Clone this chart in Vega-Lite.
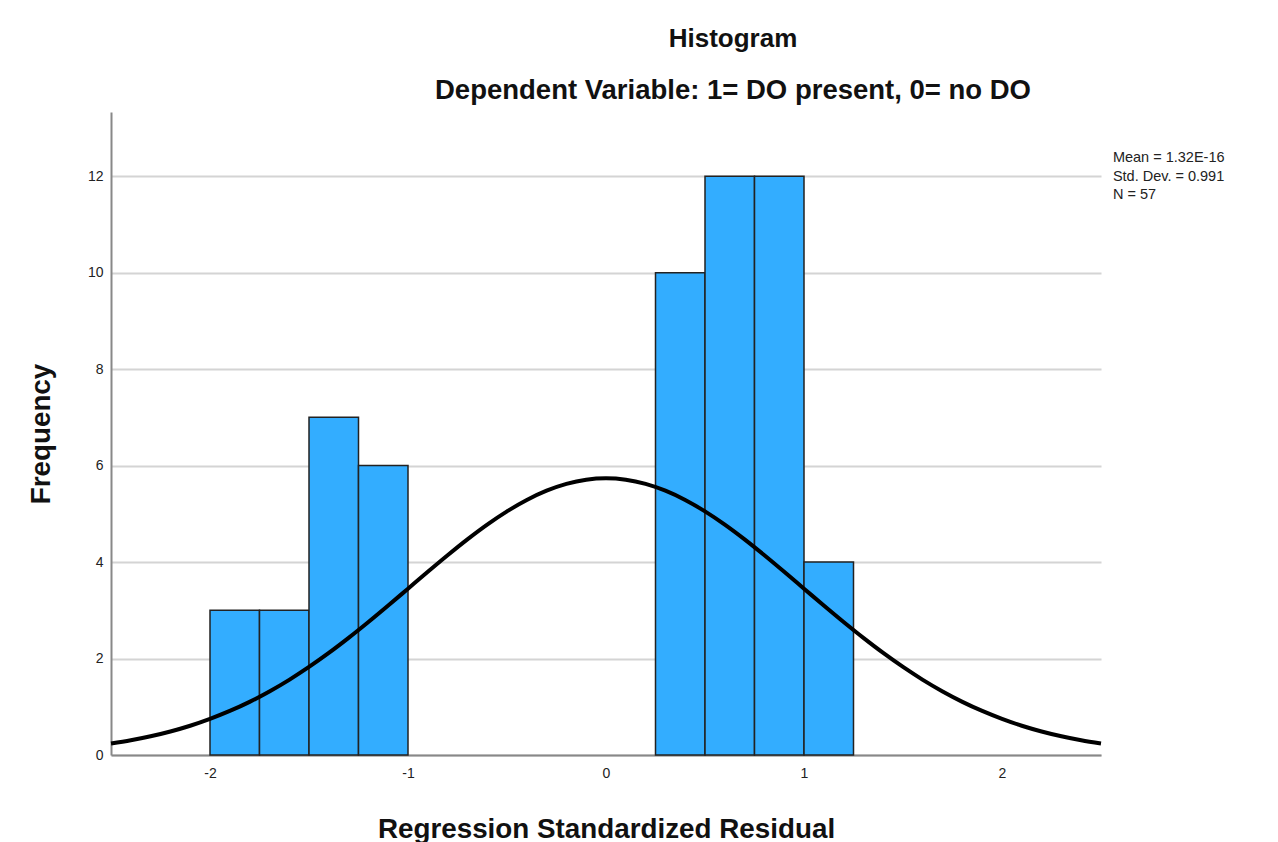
{
  "$schema": "https://vega.github.io/schema/vega-lite/v6.json",
  "width": 990,
  "height": 643,
  "autosize": "none",
  "padding": {"left": 111, "top": 112, "right": 177, "bottom": 87},
  "background": "white",
  "config": {
    "view": {"stroke": null},
    "font": "Liberation Sans"
  },
  "title": {
    "text": "Histogram",
    "subtitle": "Dependent Variable: 1= DO present, 0= no DO",
    "anchor": "middle",
    "frame": "group",
    "dx": 127,
    "fontSize": 26,
    "fontWeight": "bold",
    "color": "#111111",
    "subtitleFontSize": 27.5,
    "subtitleFontWeight": "bold",
    "subtitleColor": "#111111",
    "subtitlePadding": 25,
    "offset": 8
  },
  "datasets": {
    "bars": [
      {"bin_start": -2.0, "bin_end": -1.75, "count": 3},
      {"bin_start": -1.75, "bin_end": -1.5, "count": 3},
      {"bin_start": -1.5, "bin_end": -1.25, "count": 7},
      {"bin_start": -1.25, "bin_end": -1.0, "count": 6},
      {"bin_start": 0.25, "bin_end": 0.5, "count": 10},
      {"bin_start": 0.5, "bin_end": 0.75, "count": 12},
      {"bin_start": 0.75, "bin_end": 1.0, "count": 12},
      {"bin_start": 1.0, "bin_end": 1.25, "count": 4}
    ],
    "curve": [
      {"x": -2.5, "density": 0.238},
      {"x": -2.4, "density": 0.305},
      {"x": -2.3, "density": 0.388},
      {"x": -2.2, "density": 0.488},
      {"x": -2.1, "density": 0.607},
      {"x": -2.0, "density": 0.749},
      {"x": -1.9, "density": 0.913},
      {"x": -1.8, "density": 1.102},
      {"x": -1.7, "density": 1.317},
      {"x": -1.6, "density": 1.558},
      {"x": -1.5, "density": 1.825},
      {"x": -1.4, "density": 2.115},
      {"x": -1.3, "density": 2.427},
      {"x": -1.2, "density": 2.756},
      {"x": -1.1, "density": 3.098},
      {"x": -1.0, "density": 3.448},
      {"x": -0.9, "density": 3.798},
      {"x": -0.8, "density": 4.141},
      {"x": -0.7, "density": 4.470},
      {"x": -0.6, "density": 4.776},
      {"x": -0.5, "density": 5.051},
      {"x": -0.4, "density": 5.288},
      {"x": -0.3, "density": 5.480},
      {"x": -0.2, "density": 5.621},
      {"x": -0.1, "density": 5.708},
      {"x": 0.0, "density": 5.737},
      {"x": 0.1, "density": 5.708},
      {"x": 0.2, "density": 5.621},
      {"x": 0.3, "density": 5.480},
      {"x": 0.4, "density": 5.288},
      {"x": 0.5, "density": 5.051},
      {"x": 0.6, "density": 4.776},
      {"x": 0.7, "density": 4.470},
      {"x": 0.8, "density": 4.141},
      {"x": 0.9, "density": 3.798},
      {"x": 1.0, "density": 3.448},
      {"x": 1.1, "density": 3.098},
      {"x": 1.2, "density": 2.756},
      {"x": 1.3, "density": 2.427},
      {"x": 1.4, "density": 2.115},
      {"x": 1.5, "density": 1.825},
      {"x": 1.6, "density": 1.558},
      {"x": 1.7, "density": 1.317},
      {"x": 1.8, "density": 1.102},
      {"x": 1.9, "density": 0.913},
      {"x": 2.0, "density": 0.749},
      {"x": 2.1, "density": 0.607},
      {"x": 2.2, "density": 0.488},
      {"x": 2.3, "density": 0.388},
      {"x": 2.4, "density": 0.305},
      {"x": 2.5, "density": 0.238}
    ],
    "stats": [
      {"label": "Mean = 1.32E-16\nStd. Dev. = 0.991\nN = 57"}
    ]
  },
  "layer": [
    {
      "data": {"name": "bars"},
      "mark": {"type": "bar", "orient": "vertical", "fill": "#33adff", "stroke": "#222222", "strokeWidth": 1.5},
      "encoding": {
        "x": {
          "field": "bin_start",
          "type": "quantitative",
          "scale": {"domain": [-2.5, 2.5], "nice": false, "zero": false, "padding": 0},
          "axis": {
            "title": "Regression Standardized Residual",
            "titleFontSize": 27.8,
            "titleFontWeight": "bold",
            "titleColor": "#111111",
            "titlePadding": 35,
            "values": [-2, -1, 0, 1, 2],
            "labelExpr": "'' + datum.value",
            "labelFontSize": 14,
            "labelColor": "#222222",
            "labelPadding": 11,
            "ticks": false,
            "grid": false,
            "domainColor": "#888888",
            "domainWidth": 2
          }
        },
        "x2": {"field": "bin_end"},
        "y": {
          "field": "count",
          "type": "quantitative",
          "scale": {"domain": [0, 13.33], "nice": false, "padding": 0},
          "axis": {
            "title": "Frequency",
            "titleFontSize": 27.8,
            "titleFontWeight": "bold",
            "titleColor": "#111111",
            "titlePadding": 32,
            "values": [0, 2, 4, 6, 8, 10, 12],
            "labelFontSize": 14,
            "labelColor": "#222222",
            "labelPadding": 8,
            "ticks": false,
            "grid": true,
            "gridColor": "#d4d4d4",
            "gridWidth": 2,
            "domainColor": "#888888",
            "domainWidth": 2,
            "zindex": 0
          }
        },
        "y2": {"datum": 0}
      }
    },
    {
      "data": {"name": "curve"},
      "mark": {"type": "line", "color": "#000000", "strokeWidth": 4, "interpolate": "monotone"},
      "encoding": {
        "x": {"field": "x", "type": "quantitative"},
        "y": {"field": "density", "type": "quantitative"}
      }
    },
    {
      "data": {"name": "stats"},
      "mark": {"type": "text", "align": "left", "baseline": "top", "fontSize": 14.5, "lineHeight": 18.5, "lineBreak": "\n", "color": "#222222"},
      "encoding": {
        "x": {"datum": 2.56},
        "y": {"datum": 12.52},
        "text": {"field": "label"}
      }
    }
  ]
}
